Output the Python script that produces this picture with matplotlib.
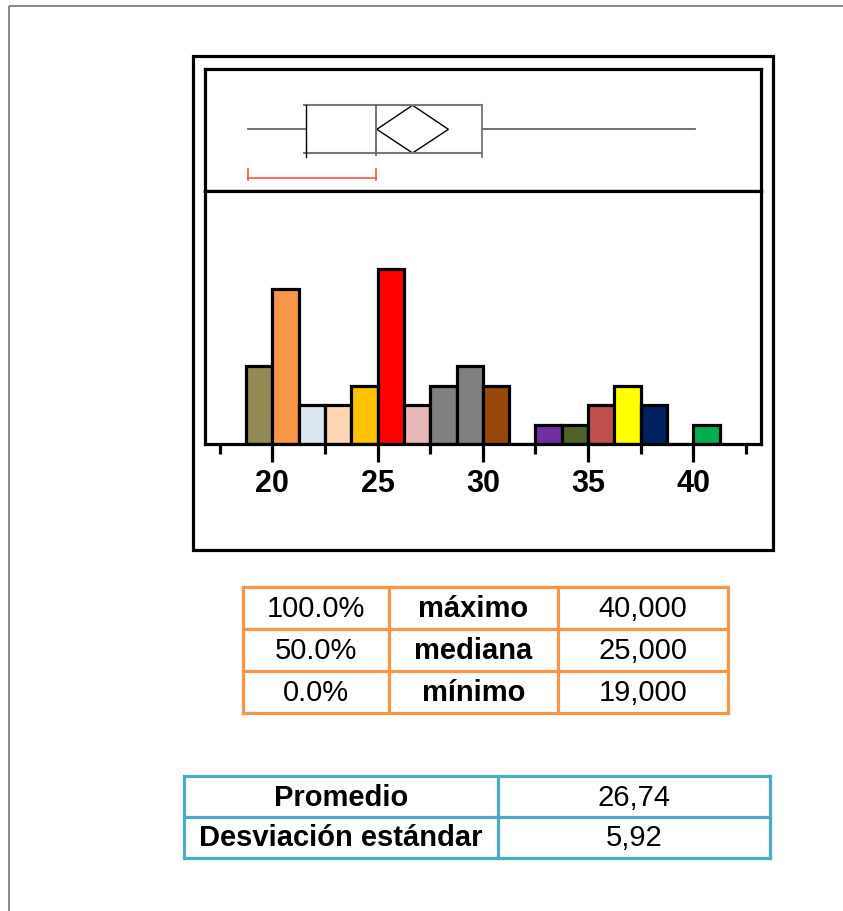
import matplotlib
matplotlib.use('Agg')
import matplotlib.pyplot as plt
from matplotlib.patches import Rectangle, Polygon

# ---------------- data ----------------
bin_left = [18.75, 20.0, 21.25, 22.5, 23.75, 25.0, 26.25, 27.5, 28.75,
            30.0, 31.25, 32.5, 33.75, 35.0, 36.25, 37.5, 38.75, 40.0]
bin_width = 1.25
counts = [4, 8, 2, 2, 3, 9, 2, 3, 4, 3, 0, 1, 1, 2, 3, 2, 0, 1]
bar_colors = ['#948A54', '#F79646', '#DCE6F1', '#FCD5B4', '#FFC000', '#FF0000',
              '#E6B9B8', '#808080', '#808080', '#974706', 'none', '#7030A0',
              '#4F6228', '#C0504D', '#FFFF00', '#002060', 'none', '#00B050']

x_min, q1, median, q3, x_max = 19.0, 21.75, 25.0, 30.0, 40.0
mean = 26.74
mean_ci = (25.06, 28.42)
shortest_half = (19.0, 25.0)

major_ticks = [20, 25, 30, 35, 40]
minor_ticks = [17.5, 22.5, 27.5, 32.5, 37.5, 42.5]

quantile_pcts = ['100.0%', '50.0%', '0.0%']
quantile_names = ['máximo', 'mediana', 'mínimo']
quantile_vals = ['40,000', '25,000', '19,000']

stat_names = ['Promedio', 'Desviación estándar']
stat_vals = ['26,74', '5,92']

# ---------------- layout ----------------
W, H, DPI = 843, 911, 100
plt.rcParams['font.family'] = ['Liberation Sans', 'DejaVu Sans']
fig = plt.figure(figsize=(W / DPI, H / DPI), dpi=DPI)
fig.patch.set_facecolor('white')

def px_axes(l, t, r, b, z=1):
    return fig.add_axes([l / W, 1 - b / H, (r - l) / W, (b - t) / H], zorder=z)

bg = px_axes(0, 0, W, H, z=0)
bg.set_xlim(0, W)
bg.set_ylim(H, 0)
bg.axis('off')

# page border
bg.plot([9, 9], [6, H], color='#7f7f7f', lw=1.3, solid_capstyle='butt')
bg.plot([9, W], [6, 6], color='#7f7f7f', lw=1.3, solid_capstyle='butt')
# outer chart frame
bg.add_patch(Rectangle((192.7, 56), 773.3 - 192.7, 550 - 56, fill=False, ec='black', lw=2.3))

XLIM = (16.817, 43.20)
BOX_XLIM = (17.01, 43.08)
LW = 2.3

# --------- box plot panel ---------
bx = px_axes(205.3, 69.3, 760.7, 191.3, z=2)
bx.set_xlim(*BOX_XLIM)
bx.set_ylim(0, 1)
bx.set_xticks([])
bx.set_yticks([])
for s in bx.spines.values():
    s.set_linewidth(LW)
yb, yt, ym = 0.314, 0.705, 0.508
bx.plot([x_min, q1], [ym, ym], color='#666666', lw=1.3)
bx.plot([q3, x_max], [ym, ym], color='#666666', lw=1.3)
bx.plot([q1 - 0.1, q3], [yt, yt], color='#777777', lw=1.5)
bx.plot([q1 - 0.1, q3], [yb, yb], color='#777777', lw=1.5)
bx.plot([q3, q3], [yb - 0.03, yt], color='#777777', lw=1.3)
bx.plot([q1, q1], [yb - 0.03, yt], color='black', lw=1.0)
bx.plot([median, median], [yb - 0.02, yt], color='#666666', lw=1.3)
bx.add_patch(Polygon([(mean_ci[0], ym), (mean, yt), (mean_ci[1], ym), (mean, yb)],
                     closed=True, fill=False, ec='black', lw=1.0))
bx.plot([shortest_half[0], shortest_half[0], shortest_half[1], shortest_half[1]],
        [0.18, 0.112, 0.112, 0.18], color='#FF5050', lw=1.2)
bx.plot([shortest_half[0]] * 2, [0.112, 0.095], color='#FF5050', lw=1.2)
bx.plot([shortest_half[1]] * 2, [0.112, 0.095], color='#FF5050', lw=1.2)

# --------- histogram panel ---------
hx = px_axes(205.3, 191.3, 760.7, 444.3, z=2)
hx.bar(bin_left, counts, width=bin_width, align='edge', color=bar_colors,
       edgecolor='black', linewidth=LW)
hx.set_xlim(*XLIM)
hx.set_ylim(0, 13)
for k in ('left', 'right', 'bottom', 'top'):
    hx.spines[k].set_linewidth(LW)
hx.set_yticks([])
hx.set_xticks(major_ticks)
hx.set_xticklabels([str(t) for t in major_ticks], fontsize=22, fontweight='bold')
hx.set_xticks(minor_ticks, minor=True)
hx.tick_params(axis='x', which='major', length=13, width=LW, pad=5)
hx.tick_params(axis='x', which='minor', length=7, width=LW)

# --------- tables ---------
def draw_table(col_edges, row_top, row_h, columns, color, bold_cols, fs):
    n = len(columns[0])
    left, right = col_edges[0], col_edges[-1]
    bottom = row_top + n * row_h
    for x in col_edges:
        bg.plot([x, x], [row_top, bottom], color=color, lw=LW, solid_capstyle='projecting')
    for i in range(n + 1):
        y = row_top + i * row_h
        bg.plot([left, right], [y, y], color=color, lw=LW, solid_capstyle='projecting')
    for c, col in enumerate(columns):
        xc = (col_edges[c] + col_edges[c + 1]) / 2
        for r, txt in enumerate(col):
            yc = row_top + (r + 0.5) * row_h + 1
            bg.text(xc, yc, txt, ha='center', va='center', fontsize=fs,
                    fontweight='bold' if c in bold_cols else 'normal', color='black')

draw_table([243, 389, 558, 728], 587, 42,
           [quantile_pcts, quantile_names, quantile_vals], '#F79646', {1}, 21)
draw_table([184, 498, 770], 776, 41,
           [stat_names, stat_vals], '#4BACC6', {0}, 21)

fig.savefig('out.png', dpi=DPI)
